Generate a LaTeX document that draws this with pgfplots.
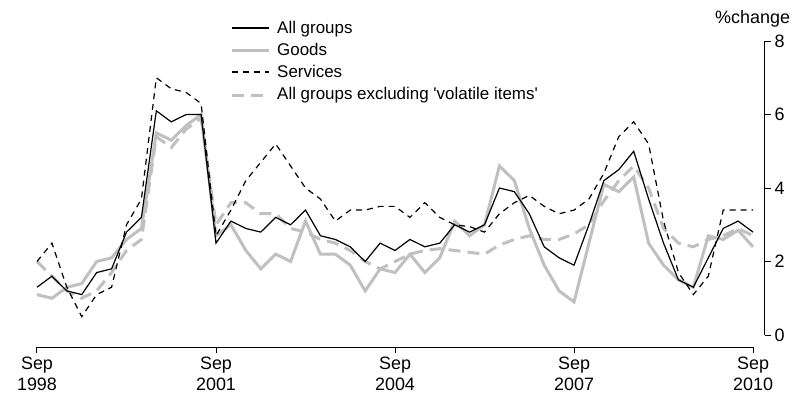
\documentclass[border=0pt]{standalone}
\usepackage{fontspec}
\setmainfont{Liberation Sans}
\usepackage{pgfplots}
\usepackage{pgfplotstable}
\pgfplotsset{compat=1.18}

% quarter index 0 = Sep 1998 ... 48 = Sep 2010, annual % change
\pgfplotstableread{
q all goods serv under
0 1.3 1.1 2.0 2.0
1 1.6 1.0 2.5 1.6
2 1.2 1.3 1.3 1.2
3 1.1 1.4 0.5 1.0
4 1.7 2.0 1.1 1.2
5 1.8 2.1 1.3 1.7
6 2.8 2.6 3.0 2.3
7 3.2 2.9 3.7 2.6
8 6.1 5.5 7.0 5.4
9 5.8 5.3 6.7 5.1
10 6.0 5.7 6.6 5.6
11 6.0 6.0 6.3 5.9
12 2.5 2.7 2.7 3.0
13 3.1 3.0 3.4 3.6
14 2.9 2.3 4.2 3.6
15 2.8 1.8 4.7 3.3
16 3.2 2.2 5.2 3.3
17 3.0 2.0 4.6 2.9
18 3.4 3.1 4.0 2.8
19 2.7 2.2 3.7 2.6
20 2.6 2.2 3.1 2.5
21 2.4 1.9 3.4 2.3
22 2.0 1.2 3.4 2.0
23 2.5 1.8 3.5 1.8
24 2.3 1.7 3.5 2.0
25 2.6 2.2 3.2 2.2
26 2.4 1.7 3.6 2.3
27 2.5 2.1 3.2 2.35
28 3.0 3.1 3.0 2.3
29 2.8 2.7 2.95 2.25
30 3.0 3.0 2.8 2.2
31 4.0 4.6 3.3 2.45
32 3.9 4.2 3.6 2.6
33 3.3 2.9 3.8 2.7
34 2.4 1.9 3.5 2.6
35 2.1 1.2 3.3 2.6
36 1.9 0.9 3.4 2.75
37 3.0 2.5 3.7 3.0
38 4.2 4.1 4.4 3.65
39 4.5 3.9 5.4 4.2
40 5.0 4.3 5.8 4.6
41 3.7 2.5 5.2 4.0
42 2.5 1.9 3.1 2.9
43 1.5 1.5 1.7 2.5
44 1.3 1.3 1.1 2.4
45 2.1 2.7 1.6 2.6
46 2.9 2.6 3.4 2.7
47 3.1 2.85 3.4 2.9
48 2.8 2.4 3.4 2.7
}\cpidata

\definecolor{lgrey}{RGB}{192,192,192}

\begin{document}
\begin{tikzpicture}
\begin{axis}[
  scale only axis, width=728bp, height=306bp,
  xmin=0, xmax=48.8, ymin=-0.3265, ymax=8,
  axis x line*=bottom, axis y line*=right,
  x axis line style={draw=none}, y axis line style={draw=none},
  xtick={0,12,24,36,48},
  xticklabels={Sep\\1998,Sep\\2001,Sep\\2004,Sep\\2007,Sep\\2010},
  ytick={0,2,4,6,8},
  tick align=outside, major tick length=6bp,
  tick style={black, line width=1bp},
  xticklabel style={align=center, font=\fontsize{18}{22}\selectfont},
  yticklabel style={font=\fontsize{18}{22}\selectfont},
  /pgf/number format/assume math mode=true,
  clip=false,
]
\addplot[lgrey, line width=3bp] table[x=q, y=goods] {\cpidata};
\addplot[lgrey, line width=3bp, dash pattern=on 12bp off 7bp] table[x=q, y=under] {\cpidata};
\addplot[black, line width=1.2bp, dash pattern=on 6bp off 5bp] table[x=q, y=serv] {\cpidata};
\addplot[black, line width=1.2bp] table[x=q, y=all] {\cpidata};

% axis lines
\draw[line width=1bp] (axis cs:0,-0.3265) -- (axis cs:48,-0.3265);
\draw[line width=1bp] (axis cs:48.8,0) -- (axis cs:48.8,8);
\node[anchor=base, inner sep=0pt, font=\fontsize{18}{22}\selectfont] at (axis cs:47.97,8.49) {\%change};

% legend
\draw[black, line width=1.2bp] (axis cs:13.07,8.354) -- (axis cs:15.55,8.354);
\draw[lgrey, line width=3bp] (axis cs:13.07,7.755) -- (axis cs:15.55,7.755);
\draw[black, line width=1.2bp, dash pattern=on 6bp off 5bp] (axis cs:13.07,7.156) -- (axis cs:15.55,7.156);
\draw[lgrey, line width=3bp, dash pattern=on 12bp off 7bp] (axis cs:13.07,6.531) -- (axis cs:15.55,6.531);
\begin{scope}[every node/.style={anchor=base west, inner sep=0pt, font=\fontsize{17}{20}\selectfont}]
\node at (axis cs:16.09,8.218) {All groups};
\node at (axis cs:16.09,7.619) {Goods};
\node at (axis cs:16.09,7.020) {Services};
\node at (axis cs:16.09,6.395) {All groups excluding \textquotesingle volatile items\textquotesingle};
\end{scope}

\coordinate (ll) at (axis cs:-2.48,-1.905);
\coordinate (ur) at (axis cs:50.88,9.116);
\end{axis}
\pgfresetboundingbox
\path[use as bounding box] (ll) rectangle (ur);
\end{tikzpicture}
\end{document}
